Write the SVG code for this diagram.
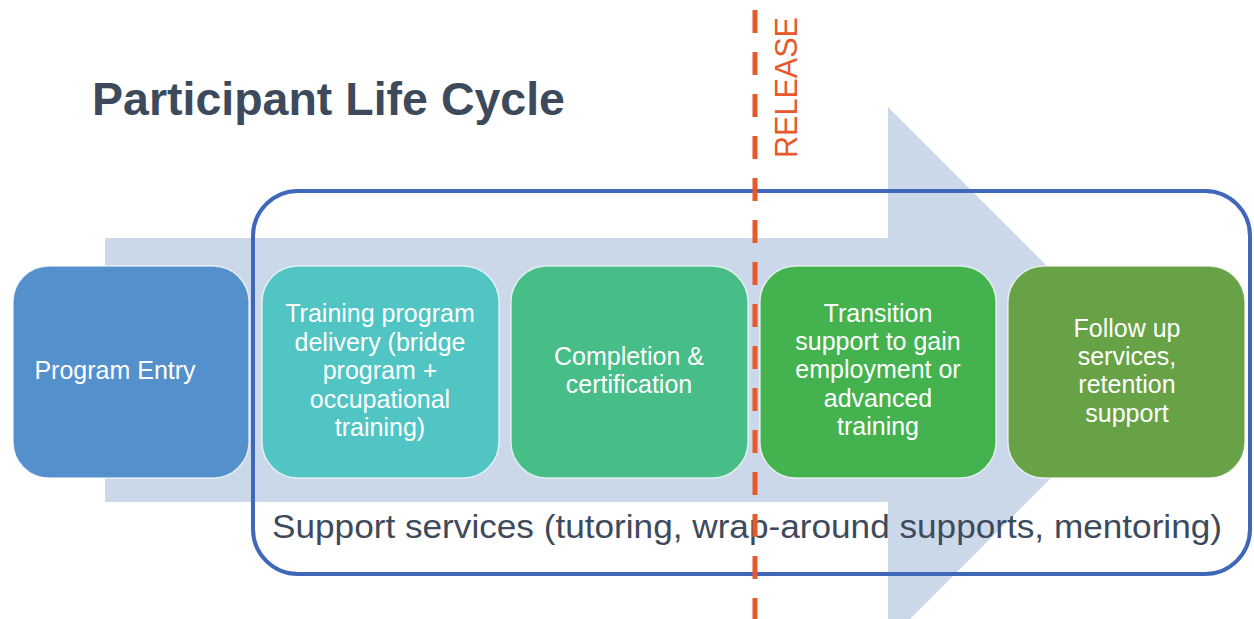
<svg xmlns="http://www.w3.org/2000/svg" width="1254" height="619" viewBox="0 0 1254 619">
  <style>
    .node rect { stroke: #ffffff; stroke-opacity: 0.7; stroke-width: 1.5; }
    .node text { font-family: "Liberation Sans", Arial, sans-serif; font-size: 25px; fill: #ffffff; text-anchor: middle; }
    .title { font-family: "Liberation Sans", Arial, sans-serif; font-weight: bold; font-size: 47px; fill: #3D4A5C; }
    .support { font-family: "Liberation Sans", Arial, sans-serif; font-size: 34px; fill: #3D4A5C; }
    .release { font-family: "Liberation Sans", Arial, sans-serif; font-size: 31px; fill: #E8582A; }
  </style>
  <rect width="1254" height="619" fill="#ffffff"/>
  <!-- Big background arrow -->
  <polygon id="flow-arrow" points="105,238 888,238 888,107 1155,374 888,641 888,502 105,502" fill="#CBD8E9"/>
  <!-- Support services frame -->
  <g id="support-frame">
    <rect x="253" y="191" width="997" height="383" rx="45" ry="45" fill="none" stroke="#4068B9" stroke-width="4"/>
    <text class="support" x="272" y="538" textLength="950" lengthAdjust="spacingAndGlyphs">Support services (tutoring, wrap-around supports, mentoring)</text>
  </g>
  <text class="title" x="92" y="115" textLength="473" lengthAdjust="spacingAndGlyphs">Participant Life Cycle</text>
  <g id="node-entry" class="node">
    <rect x="13" y="266" width="236" height="212" rx="36" ry="36" fill="#5390CC"/>
    <text x="115" y="379">Program Entry</text>
  </g>
  <g id="node-training" class="node">
    <rect x="262" y="266" width="237" height="212" rx="36" ry="36" fill="#50C5C3"/>
    <text x="380" y="322">Training program</text>
    <text x="380" y="351">delivery (bridge</text>
    <text x="380" y="379">program +</text>
    <text x="380" y="408">occupational</text>
    <text x="380" y="436">training)</text>
  </g>
  <g id="node-completion" class="node">
    <rect x="511" y="266" width="237" height="212" rx="36" ry="36" fill="#47BD88"/>
    <text x="629" y="365">Completion &amp;</text>
    <text x="629" y="393">certification</text>
  </g>
  <g id="node-transition" class="node">
    <rect x="760" y="266" width="236" height="212" rx="36" ry="36" fill="#44B34F"/>
    <text x="878" y="322">Transition</text>
    <text x="878" y="350">support to gain</text>
    <text x="878" y="378">employment or</text>
    <text x="878" y="407">advanced</text>
    <text x="878" y="435">training</text>
  </g>
  <g id="node-followup" class="node">
    <rect x="1008" y="266" width="237" height="212" rx="36" ry="36" fill="#68A246"/>
    <text x="1127" y="337">Follow up</text>
    <text x="1127" y="365">services,</text>
    <text x="1127" y="393">retention</text>
    <text x="1127" y="422">support</text>
  </g>
  <g id="connectors">
    <line x1="755" y1="10" x2="755" y2="619" stroke="#E8582A" stroke-width="5" stroke-dasharray="23 19"/>
  </g>
  <text class="release" transform="translate(797,158) rotate(-90)" x="0" y="0" textLength="141" lengthAdjust="spacingAndGlyphs">RELEASE</text>
</svg>
